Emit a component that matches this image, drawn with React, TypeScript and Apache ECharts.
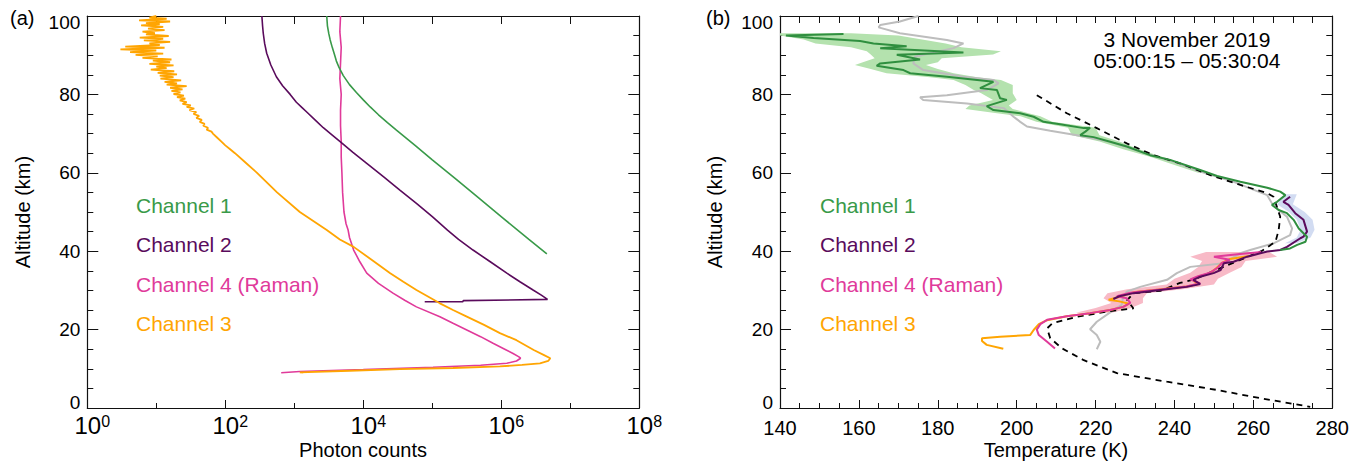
import React, { useEffect, useRef } from "react";
import * as echarts from "echarts";

const FONT = "'Liberation Sans', Arial, Helvetica, sans-serif";

// ---------------- Panel (a): photon counts, stored as [log10(counts), altitude km] ----------------
const aCh1: number[][] = [
  [3.47, 100], [3.48, 97.5], [3.5, 95.5], [3.52, 93.9], [3.55, 92], [3.58, 90.3], [3.61, 88.5],
  [3.65, 86.8], [3.71, 84.8], [3.8, 82.5], [3.9, 80.5], [4.0, 78.6], [4.1, 76.8], [4.22, 74.8],
  [4.35, 72.8], [4.48, 70.9], [4.75, 67], [5.0, 63.3], [5.33, 58.6], [5.65, 53.9], [6.02, 48.5],
  [6.4, 43], [6.66, 39.3],
];
const aCh2: number[][] = [
  [2.53, 100], [2.54, 97.5], [2.55, 95.6], [2.57, 93], [2.6, 90.5], [2.66, 87.5], [2.74, 84.5],
  [2.83, 82.2], [2.94, 80], [3.03, 78], [3.12, 76.5], [3.18, 75.5], [3.3, 73.5], [3.42, 71.5],
  [3.55, 69.6], [3.66, 68], [3.85, 65.2], [4.05, 62.4], [4.3, 58.9], [4.53, 55.6], [4.77, 52.2],
  [5.0, 48.8], [5.22, 45.4], [5.38, 43], [5.59, 40.3], [5.84, 37.3], [6.08, 34.4], [6.27, 32.2],
  [6.46, 30.1], [6.58, 28.8], [6.67, 27.7], [5.45, 27.4], [5.44, 27.1], [4.89, 27.1],
];
const aCh4: number[][] = [
  [3.67, 100], [3.66, 96], [3.68, 92], [3.67, 88], [3.66, 84], [3.68, 80], [3.67, 76], [3.67, 72],
  [3.68, 68], [3.68, 64], [3.69, 60], [3.7, 55], [3.72, 50], [3.75, 47], [3.78, 45.4], [3.8, 43.5],
  [3.86, 40.3], [3.95, 37.3], [4.05, 34.4], [4.22, 31.8], [4.43, 29.3], [4.6, 27.5], [4.77, 25.8],
  [5.11, 23.3], [5.3, 21.6], [5.5, 19.9], [5.7, 18.2], [5.88, 16.5], [6.05, 15], [6.17, 13.9],
  [6.25, 13.1], [6.28, 12.7], [6.22, 12], [6.08, 11.4], [5.7, 10.9], [5.01, 10.4], [4.0, 9.8],
  [3.08, 9.3], [2.81, 9.0],
];
const aCh3: number[][] = [
  [1.0, 100], [0.9, 99.6], [1.15, 99.3], [0.75, 98.9], [1.2, 98.6], [0.85, 98.2], [1.05, 97.9],
  [0.78, 97.6], [1.1, 97.2], [0.88, 96.8], [1.12, 96.4], [0.8, 96], [0.98, 95.6], [0.85, 95.3],
  [1.18, 94.9], [0.76, 94.5], [1.1, 94.2], [0.82, 93.8], [1.2, 93.4], [0.9, 93], [1.05, 92.6],
  [0.55, 92.2], [1.12, 91.9], [0.48, 91.5], [1.0, 91.2], [0.62, 90.8], [1.1, 90.4], [0.7, 90.1],
  [1.02, 89.7], [0.8, 89.3], [1.22, 88.9], [0.95, 88.6], [1.2, 88.2], [0.9, 87.8], [1.25, 87.4],
  [1.0, 87.1], [1.15, 86.7], [0.92, 86.3], [1.26, 85.9], [1.02, 85.5], [1.3, 85.1], [1.05, 84.8],
  [1.25, 84.4], [1.06, 84], [1.36, 83.6], [1.12, 83.2], [1.3, 82.8], [1.15, 82.5], [1.44, 82.1],
  [1.2, 81.7], [1.38, 81.3], [1.22, 80.9], [1.35, 80.5], [1.25, 80.1], [1.4, 79.7], [1.3, 79.3],
  [1.42, 78.9], [1.34, 78.5], [1.44, 78], [1.38, 77.6], [1.5, 77.2], [1.44, 76.8], [1.55, 76.4],
  [1.48, 76], [1.58, 75.5], [1.54, 75], [1.62, 74.5], [1.58, 74], [1.66, 73.5], [1.63, 73],
  [1.7, 72.5], [1.68, 72], [1.75, 71.5], [1.73, 71], [1.8, 70.5], [1.82, 70], [1.88, 69],
  [1.94, 68], [2.0, 67], [2.07, 66], [2.14, 65], [2.3, 62.5], [2.46, 60], [2.75, 55], [3.08, 50],
  [3.47, 45.4], [3.66, 43], [3.86, 41.1], [4.13, 37.7], [4.39, 34.4], [4.58, 32.2], [4.77, 30.1],
  [5.11, 26.7], [5.3, 25], [5.5, 23.3], [5.75, 21.2], [5.98, 19.1], [6.22, 17.3], [6.47, 14.8],
  [6.62, 13.5], [6.71, 12.7], [6.68, 12], [6.56, 11.4], [6.3, 11], [5.98, 10.6], [5.3, 10.2],
  [4.53, 9.9], [3.8, 9.5], [3.08, 9.1], [3.13, 9.0],
];
const aExponentTicks = [0, 2, 4, 6, 8];

// ---------------- Panel (b): temperature profiles [T (K), altitude km] ----------------
const bCh1: number[][] = [
  [156.1, 95.4], [141.5, 95.0], [148.5, 94.4], [160.3, 93.6], [163.7, 93], [172.1, 92.3],
  [165.4, 91.8], [186.5, 90.7], [169.6, 90.1], [175.5, 88.9], [165.4, 87.9], [164.5, 87.3],
  [171.3, 86.2], [173, 85.4], [182.3, 84.5], [194.1, 83.2], [190.7, 81.6], [195, 81.1], [195.8, 79],
  [197.5, 78.6], [192.4, 77], [194.1, 76], [200.9, 75.2], [204.3, 74.3], [206.8, 73], [211, 72.4],
  [217, 71.4], [218.6, 71.5], [217.4, 70.5], [216.1, 69.6], [219.5, 69.1], [223.7, 67.9],
  [227.9, 66.7], [233.8, 64.5], [238.9, 63.3], [246.5, 60.7], [250.8, 59.2], [256.7, 57.7],
  [263.5, 56.2], [266.8, 55.2], [268.1, 54.3], [266, 52.6], [264.7, 51.8], [266.4, 50.5],
  [268.5, 49.7], [270.2, 48], [271.5, 45.8], [273.6, 43.7], [273.2, 42.4], [271.1, 41.6],
  [269.3, 40.7], [266.8, 40.3],
];
const bCh2: number[][] = [
  [269.3, 53.9], [267.6, 52.6], [268.9, 51.8], [270.6, 49.7], [272.7, 48], [273.6, 45],
  [272.7, 43.7], [271.9, 43.3], [268.5, 41.1], [266.8, 40.3], [263.5, 39.9], [258.4, 38.6],
  [255, 37.3], [252.5, 36.9], [251.7, 35.2], [249.9, 34.4], [246.5, 33.5], [244.8, 32.7],
  [246.5, 31.6], [243.1, 30.9], [236.4, 30.1], [229.6, 29.3], [226, 28.5], [224.5, 27.8],
];
const bCh4: number[][] = [
  [262, 39.8], [256, 39.2], [250, 38.6], [254, 37.8], [252, 37], [251, 35.8], [249, 34.5],
  [246, 33.6], [244, 32.8], [246.5, 31.8], [243, 31], [237, 30.3], [232, 29.8], [228.8, 29.4],
  [225.4, 28.5], [227.9, 28], [228.8, 26.8], [227, 25.8], [223.7, 25], [218.6, 24.2],
  [212.7, 23.4], [207.7, 22.5], [206, 21.4], [205.1, 20], [205.6, 18.6], [207.7, 16.9], [209.7, 15.2],
];
const bCh3: number[][] = [
  [259, 38.8], [254, 38], [252, 37], [250.5, 35.6], [249, 34.4], [246, 33.5], [244.5, 32.7],
  [246, 31.6], [243, 31], [236, 30.2], [230, 29.6], [228, 29], [225.5, 28.2], [223.3, 27.6],
  [226, 27.2], [228.5, 26.6], [227, 25.8], [223.7, 25], [218.6, 24.2], [212.7, 23.4], [207.7, 22.4],
  [205.6, 21.4], [204.3, 19.9], [203.4, 18.6], [195.8, 18.2], [191.2, 17.8], [191.2, 17.1],
  [192.4, 16.1], [196.6, 15.1],
];
const bReference: number[][] = [
  [175.1, 100], [170.4, 98.6], [165.4, 97.7], [165, 97.1], [170.4, 95.6], [182.3, 93.9],
  [186.5, 93], [184, 91.8], [178, 90.5], [174.2, 89.6], [173.8, 87.9], [176.3, 86.2], [186.5, 84.5],
  [194.1, 83.7], [195.4, 82.8], [192.4, 81.1], [182.3, 79.8], [175.5, 79.3], [176.3, 78.6],
  [187.4, 77.7], [196.7, 76.5], [199.2, 74.3], [200.9, 73], [202.6, 71.8], [208.5, 70.7],
  [215.3, 69.6], [223.7, 67.9], [231.3, 65.4], [239.8, 62.8], [246.5, 60.3], [255, 57.7],
  [263.5, 54.3], [264.7, 52.2], [266.4, 50.5], [268.5, 48.8], [269.8, 45.8], [269.3, 44.1],
  [265.1, 42], [259.2, 40.3], [256.7, 39.5], [252.5, 36.9], [244, 36], [240.6, 34.4], [238.1, 32.7],
  [231.3, 30.9], [227.9, 29.7], [227, 28.4], [226.6, 26.3], [223.7, 24.4], [220.3, 22],
  [218.6, 20.1], [220.3, 18.6], [221.2, 16.9], [220.3, 15],
];
const bModel: number[][] = [
  [205.1, 79.8], [212.7, 75.2], [220.3, 71.4], [227.9, 67.5], [234.7, 64.5], [241.4, 62.4],
  [249.1, 59.4], [256.7, 56.9], [263.5, 54.8], [265.1, 53.9], [266.8, 48.8], [266.4, 45.4],
  [265.6, 42.4], [262, 40], [256, 37.5], [250, 35], [245, 32.8], [241.4, 31.9], [236.4, 29.9],
  [229.6, 29.3], [228, 27.5], [229.6, 25.4], [222.8, 24.6], [215, 23.2], [209, 21.6],
  [207.7, 20.3], [208.5, 17.8], [211.5, 15.2], [217, 12.2], [225.4, 8.9], [238.1, 6.7],
  [250.8, 4.6], [261.7, 2.5], [274.4, 0.3],
];
// Uncertainty bands: [altitude, lower T, upper T]
const bCh1Band: number[][] = [
  [95.6, 140, 158], [95.0, 140, 170], [94.0, 146, 176], [93.0, 149, 182], [92.0, 158, 186],
  [91.0, 162, 196], [90.2, 163, 194], [89.2, 164, 181], [88.2, 161, 180], [87.5, 159, 177],
  [86.5, 163, 180], [85.4, 167, 184], [84.4, 178, 190], [83.7, 184, 196], [82.4, 187, 199],
  [81.2, 189, 199], [80.3, 191, 199], [78.6, 194, 200], [77.2, 188, 198], [76.3, 187, 199],
  [75.2, 195, 203], [74.4, 201, 206], [73, 205, 209], [71.5, 213, 220], [69.6, 214, 221],
  [68, 221, 226], [66, 227, 231], [64, 234, 237], [62, 240, 243], [60, 246, 249],
];
const bCh2Band: number[][] = [
  [54.5, 268, 271], [52, 266, 270], [50, 269, 273], [48, 271, 275], [45.5, 272, 275.5],
  [43.5, 271, 274.5], [42, 268, 271],
];
const bCh4Band: number[][] = [
  [39.8, 248, 264], [38.6, 244, 266], [37.5, 247, 258], [36, 246, 257], [34.5, 244, 254],
  [33, 240, 251], [31.5, 238, 250], [30.3, 228, 242], [29.3, 223, 233], [28, 222, 232],
  [26.8, 224, 232], [25.5, 220, 229], [24.3, 215, 224],
];

const altLabelFont = 19;
const legendLabels = ["Channel 1", "Channel 2", "Channel 4 (Raman)", "Channel 3"];
const C1 = "#399a49";
const C2 = "#5a0b5c";
const C4 = "#e03a9a";
const C3 = "#ffa502";
const legendColors = [C1, C2, C4, C3];
const legendY = [205, 244, 284, 323];

const toCounts = (rows: number[][]) => rows.map(([e, a]) => [10 ** e, a]);

function line(data: number[][], color: string, width: number, xi: number, yi: number, extra: any = {}) {
  return {
    type: "line",
    xAxisIndex: xi,
    yAxisIndex: yi,
    data,
    symbol: "none",
    showSymbol: false,
    silent: true,
    lineStyle: { color, width, ...(extra.lineStyle || {}) },
    z: extra.z ?? 3,
  };
}

function band(rows: number[][], color: string) {
  return {
    type: "custom",
    xAxisIndex: 3,
    yAxisIndex: 2,
    silent: true,
    clip: true,
    z: 1,
    data: [[rows[0][1], rows[0][0]]],
    encode: { x: 0, y: 1 },
    renderItem: (_p: any, api: any) => {
      const left = rows.map((r) => api.coord([r[1], r[0]]));
      const right = rows.map((r) => api.coord([r[2], r[0]])).reverse();
      return { type: "polygon", shape: { points: left.concat(right) }, style: { fill: color } };
    },
  };
}

const axisLine = { show: true, onZero: false, lineStyle: { color: "#111", width: 1.2 } };
const lbl = { fontSize: altLabelFont, fontFamily: FONT, color: "#000" };

function yAxes(gridIndex: number) {
  return [
    {
      type: "value", gridIndex, position: "left", min: 0, max: 100, interval: 20,
      axisLine, splitLine: { show: false },
      axisTick: { show: true, inside: true, length: 11, lineStyle: { color: "#111" } },
      minorTick: { show: true, splitNumber: 4, length: 6, lineStyle: { color: "#111" } },
      axisLabel: {
        margin: 7,
        formatter: (v: number) => (v === 100 ? `{t|${v}}` : v === 0 ? `{z|${v}}` : `{n|${v}}`),
        rich: {
          n: { ...lbl },
          t: { ...lbl, padding: [12, 0, 0, 0] },
          z: { ...lbl, padding: [0, 0, 12, 0] },
        },
      },
    },
    {
      type: "value", gridIndex, position: "right", min: 0, max: 100, interval: 20,
      axisLine, splitLine: { show: false },
      axisTick: { show: true, inside: true, length: 11, lineStyle: { color: "#111" } },
      minorTick: { show: true, splitNumber: 4, length: 6, lineStyle: { color: "#111" } },
      axisLabel: { show: false },
    },
  ];
}

function text(x: number, y: number, t: string, color: string, extra: any = {}) {
  return {
    type: "text", x, y, silent: true, z: 10, rotation: extra.rotation || 0,
    style: {
      text: t, fill: color, fontSize: extra.fontSize || 20, fontFamily: FONT,
      align: extra.align || "left", verticalAlign: "middle",
      lineHeight: extra.lineHeight,
    },
  };
}

export default function App() {
  const ref = useRef<HTMLDivElement>(null);
  useEffect(() => {
    if (!ref.current) return;
    const chart = echarts.init(ref.current, undefined, { renderer: "svg" });
    const graphics: any[] = [
      text(10, 18, "(a)", "#000", { fontSize: 20 }),
      text(706, 18, "(b)", "#000", { fontSize: 20 }),
      text(1187, 50, "3 November 2019\n05:00:15 \u2013 05:30:04", "#000", { fontSize: 21, align: "center", lineHeight: 21 }),
      text(363, 450, "Photon counts", "#000", { fontSize: 20, align: "center" }),
      text(1056, 450, "Temperature (K)", "#000", { fontSize: 20, align: "center" }),
      text(23, 212, "Altitude (km)", "#000", { fontSize: 20, align: "center", rotation: Math.PI / 2 }),
      text(715, 212, "Altitude (km)", "#000", { fontSize: 20, align: "center", rotation: Math.PI / 2 }),
    ];
    legendLabels.forEach((l, i) => {
      graphics.push(text(136, legendY[i], l, legendColors[i], { fontSize: 21 }));
      graphics.push(text(820, legendY[i], l, legendColors[i], { fontSize: 21 }));
    });

    chart.setOption({
      animation: false,
      backgroundColor: "#fff",
      grid: [
        { left: 87.3, top: 16, width: 552, height: 392 },
        { left: 780, top: 16, width: 552.3, height: 392 },
      ],
      xAxis: [
        { type: "log", gridIndex: 0, min: 1, max: 1e8, logBase: 10, show: false },
        {
          type: "value", gridIndex: 0, position: "bottom", min: 0, max: 8, interval: 2,
          axisLine, splitLine: { show: false },
          axisTick: { show: true, inside: true, length: 8, lineStyle: { color: "#111" } },
          minorTick: { show: true, splitNumber: 2, length: 5, lineStyle: { color: "#111" } },
          axisLabel: {
            margin: 5, color: "#000",
            customValues: aExponentTicks,
            formatter: (v: number) => `{b|10}{s|${v}}`,
            rich: {
              b: { fontSize: 24, fontFamily: FONT, color: "#000", padding: [0, 0, 0, 10] },
              s: { fontSize: 16, fontFamily: FONT, color: "#000", verticalAlign: "top" },
            },
          },
        },
        {
          type: "value", gridIndex: 0, position: "top", min: 0, max: 8, interval: 1,
          axisLine, splitLine: { show: false },
          axisTick: { show: true, inside: true, length: 8, lineStyle: { color: "#111" } },
          axisLabel: { show: false },
        },
        {
          type: "value", gridIndex: 1, position: "bottom", min: 140, max: 280, interval: 20,
          axisLine, splitLine: { show: false },
          axisTick: { show: true, inside: true, length: 8, lineStyle: { color: "#111" } },
          minorTick: { show: true, splitNumber: 4, length: 5, lineStyle: { color: "#111" } },
          axisLabel: { fontSize: 20, fontFamily: FONT, color: "#000", margin: 10 },
        },
        {
          type: "value", gridIndex: 1, position: "top", min: 140, max: 280, interval: 5,
          axisLine, splitLine: { show: false },
          axisTick: { show: true, inside: true, length: 7, lineStyle: { color: "#111" } },
          axisLabel: { show: false },
        },
      ],
      yAxis: [...yAxes(0), ...yAxes(1)],
      series: [
        // panel (a)
        line(toCounts(aCh4), C4, 1.6, 0, 0),
        line(toCounts(aCh1), C1, 1.6, 0, 0),
        line(toCounts(aCh2), C2, 1.6, 0, 0),
        line(toCounts(aCh3), C3, 1.8, 0, 0),
        // panel (b)
        band(bCh1Band, "#b4e2ae"),
        band(bCh2Band, "#d2dcf2"),
        band(bCh4Band, "#f8bac7"),
        line(bReference, "#bdbdbd", 2, 3, 2, { z: 2 }),
        line(bModel, "#000", 1.8, 3, 2, { z: 2, lineStyle: { type: [6, 5] } }),
        line(bCh3, C3, 2, 3, 2),
        line(bCh4, C4, 2, 3, 2),
        line(bCh2, C2, 2, 3, 2),
        line(bCh1, "#2f8f3f", 2, 3, 2),
      ],
      graphic: graphics,
    });
    return () => chart.dispose();
  }, []);
  return (
    <div
      ref={ref}
      style={{ position: "fixed", left: 0, top: 0, width: 1353, height: 462, background: "#fff" }}
    />
  );
}
